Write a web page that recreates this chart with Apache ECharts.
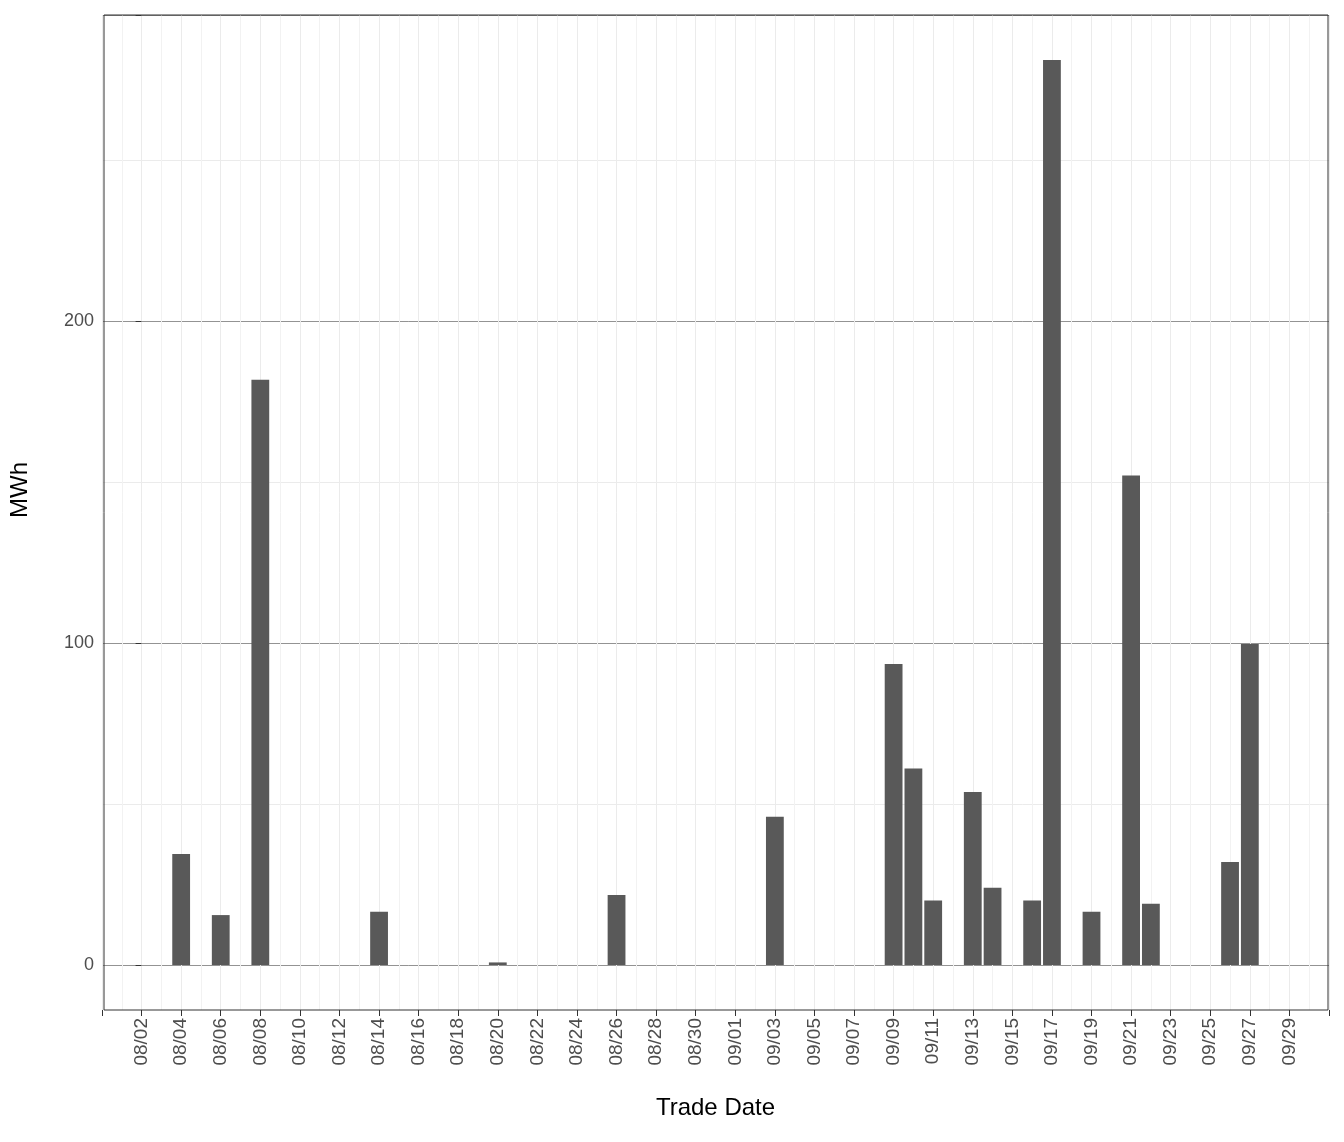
<!DOCTYPE html>
<html><head><meta charset="utf-8">
<script src="https://cdn.jsdelivr.net/npm/echarts@6/dist/echarts.min.js"></script>
<style>body{margin:0}#c{width:1344px;height:1142px}</style></head>
<body><div id="c"></div>
<script>
// trade dates with nonzero volume, and MWh values
const tradeDates = ['08/04','08/06','08/08','08/14','08/20','08/26','09/03','09/09','09/10','09/11',
  '09/13','09/14','09/16','09/17','09/19','09/21','09/22','09/26','09/27']
const mwh = [34.5, 15.5, 181.7, 16.5, 0.8, 21.7, 46, 93.5, 61, 20,
  53.7, 24, 20, 281, 16.5, 152, 19, 32, 99.7]
const yTicks = [0, 100, 200]

// day offset from 08/02
const dayIdx = (s) => {
    const [m, d] = s.split('/').map(Number)
    return (Date.UTC(2021, m - 1, d) - Date.UTC(2021, 7, 2)) / 86400000
}
const idxLabel = (v) => {
    const dt = new Date(Date.UTC(2021, 7, 2) + v * 86400000)
    return String(dt.getUTCMonth() + 1).padStart(2, '0') + '/' + String(dt.getUTCDate()).padStart(2, '0')
}

const L = 102, R = 15
const chart = echarts.init(document.getElementById('c'))
chart.setOption({
    backgroundColor: '#fff',
    animation: false,
    grid: [
        { left: L, right: R, top: 15, bottom: 1142 - 1010 },
        { left: L, right: R, top: 15, bottom: 1142 - 965 }
    ],
    xAxis: [{
        gridIndex: 0, type: 'value', min: -2, max: 60, interval: 2,
        name: 'Trade Date', nameLocation: 'middle', nameGap: 86,
        nameTextStyle: { fontSize: 24, color: '#000', fontFamily: 'Liberation Sans' },
        axisLine: { show: false },
        axisTick: { length: 6, lineStyle: { color: '#333' } },
        axisLabel: {
            rotate: 90, fontSize: 19, color: '#4d4d4d', fontFamily: 'Liberation Sans', margin: 8,
            formatter: (v) => (v < 0 || v > 58) ? '' : idxLabel(v)
        },
        splitLine: { lineStyle: { color: '#ebebeb', width: 1 } },
        minorTick: { show: false, splitNumber: 2 },
        minorSplitLine: { show: true, lineStyle: { color: '#f2f2f2', width: 1 } }
    }, {
        gridIndex: 1, type: 'value', min: -2, max: 60,
        axisLine: { show: false }, axisTick: { show: false }, axisLabel: { show: false },
        splitLine: { show: false }
    }],
    yAxis: [{
        gridIndex: 0, type: 'value', min: 0, max: 1,
        axisLine: { show: false }, axisTick: { show: false }, axisLabel: { show: false },
        splitLine: { show: false }
    }, {
        gridIndex: 1, type: 'value', min: 0, max: 295, interval: 100,
        name: 'MWh', nameLocation: 'middle', nameGap: 70, nameRotate: 90,
        nameTextStyle: { fontSize: 24, color: '#000', fontFamily: 'Liberation Sans' },
        axisLine: { show: false },
        axisTick: { length: 6, lineStyle: { color: '#333' } },
        axisLabel: {
            fontSize: 18, color: '#4d4d4d', fontFamily: 'Liberation Sans',
            formatter: (v) => yTicks.includes(v) ? String(v) : ''
        },
        splitLine: { lineStyle: { color: '#777', width: 0.8 } },
        minorTick: { show: false, splitNumber: 2 },
        minorSplitLine: { show: true, lineStyle: { color: '#ebebeb', width: 1 } }
    }],
    series: [{
        type: 'bar', xAxisIndex: 1, yAxisIndex: 1,
        barWidth: 17.8,
        itemStyle: { color: '#595959' },
        data: tradeDates.map((d, i) => [dayIdx(d), mwh[i]])
    }],
    graphic: [{
        type: 'rect', z: 100,
        shape: { x: 104, y: 15, width: 1224, height: 995 },
        style: { fill: 'none', stroke: '#333', lineWidth: 1 }
    }]
})
</script></body></html>
